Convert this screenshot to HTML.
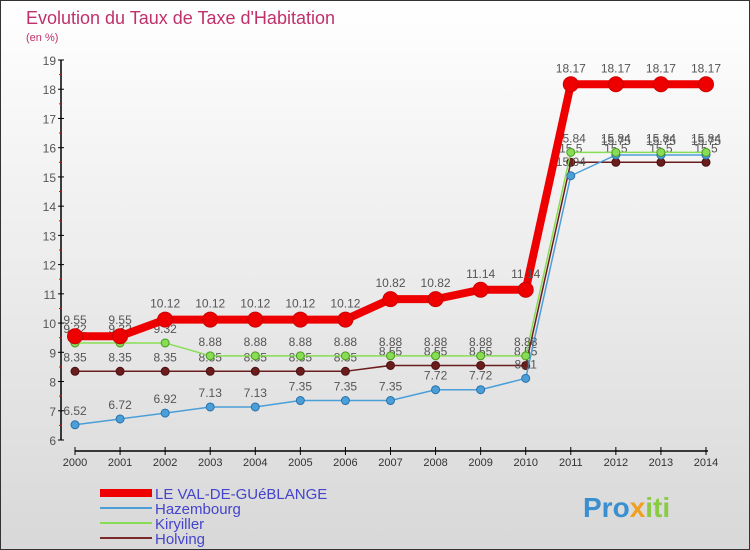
<!DOCTYPE html>
<html><head><meta charset="utf-8"><style>
body{margin:0}
svg{display:block;font-family:"Liberation Sans",sans-serif}
</style></head><body>
<svg id="c" width="750" height="550">
<defs><linearGradient id="bg" x1="0" y1="0" x2="0" y2="1"><stop offset="0" stop-color="#ffffff"/><stop offset="1" stop-color="#d8d8d8"/></linearGradient></defs>
<rect x="0.5" y="0.5" width="749" height="549" fill="url(#bg)" stroke="#333"/>
<text x="26" y="24" font-size="18" fill="#c0306a">Evolution du Taux de Taxe d'Habitation</text>
<text x="26" y="41" font-size="11" fill="#c0306a">(en %)</text>
<g id="axes"></g><g id="series"></g>
<g>
<line x1="100" y1="493" x2="152" y2="493" stroke="#ee0000" stroke-width="8"/>
<text x="155" y="499" font-size="15" fill="#4444cc">LE VAL-DE-GUéBLANGE</text>
<line x1="100" y1="508" x2="152" y2="508" stroke="#4a9fd8" stroke-width="2"/>
<text x="155" y="514" font-size="15" fill="#4444cc">Hazembourg</text>
<line x1="100" y1="523" x2="152" y2="523" stroke="#88dd55" stroke-width="2"/>
<text x="155" y="529" font-size="15" fill="#4444cc">Kiryiller</text>
<line x1="100" y1="538" x2="152" y2="538" stroke="#7a2a2a" stroke-width="2"/>
<text x="155" y="544" font-size="15" fill="#4444cc">Holving</text>
</g>
<text x="583" y="517" font-size="28" font-weight="bold" fill="#3a8fd0">Pro<tspan fill="#f0a020">x</tspan><tspan fill="#88cc44">iti</tspan></text>
</svg>
<script>
const years=[2000,2001,2002,2003,2004,2005,2006,2007,2008,2009,2010,2011,2012,2013,2014];
const leVal=[9.55,9.55,10.12,10.12,10.12,10.12,10.12,10.82,10.82,11.14,11.14,18.17,18.17,18.17,18.17];
const hazembourg=[6.52,6.72,6.92,7.13,7.13,7.35,7.35,7.35,7.72,7.72,8.11,15.04,15.75,15.75,15.75];
const kiryiller=[9.32,9.32,9.32,8.88,8.88,8.88,8.88,8.88,8.88,8.88,8.88,15.84,15.84,15.84,15.84];
const holving=[8.35,8.35,8.35,8.35,8.35,8.35,8.35,8.55,8.55,8.55,8.55,15.5,15.5,15.5,15.5];
const yTicks=[6,7,8,9,10,11,12,13,14,15,16,17,18,19];
const NS="http://www.w3.org/2000/svg";
const X=i=>75+i*(631/14);
const Y=v=>440-(v-6)*(380/13);
function mk(t,a,p){const e=document.createElementNS(NS,t);for(const k in a)e.setAttribute(k,a[k]);p.appendChild(e);return e;}
const ax=document.getElementById('axes');
let e=mk('line',{x1:61,y1:60,x2:61,y2:440,stroke:'#000','stroke-width':1.5},ax);


e=mk('line',{x1:75,y1:451,x2:708,y2:451,stroke:'#000','stroke-width':1.5},ax);


yTicks.forEach(v=>{
  mk('line',{x1:58,y1:Y(v),x2:64,y2:Y(v),stroke:'#000'},ax);
  if(v<19)mk('line',{x1:59,y1:Y(v+0.5),x2:62,y2:Y(v+0.5),stroke:'#e00'},ax);
  const t=mk('text',{x:56,y:Y(v)+5,'font-size':12,fill:'#555','text-anchor':'end'},ax);t.textContent=v;
  
  
});
years.forEach((y,i)=>{
  mk('line',{x1:X(i),y1:447,x2:X(i),y2:455,stroke:'#000'},ax);
  const t=mk('text',{x:X(i),y:466,'font-size':11,fill:'#333','text-anchor':'middle'},ax);t.textContent=y;
  
  
});
const sg=document.getElementById('series');
function draw(vals,color,w,r,name,dark,lo){
  const g=mk('g',{},sg);
  
  
  mk('polyline',{points:vals.map((v,i)=>X(i)+','+Y(v)).join(' '),fill:'none',stroke:color,'stroke-width':w,'stroke-linejoin':'round'},g);
  vals.forEach((v,i)=>{
    const c=mk('circle',{cx:X(i),cy:Y(v),r:r,fill:color,stroke:dark,'stroke-width':1},g);
    
    
    const t=mk('text',{x:X(i),y:Y(v)-lo,'font-size':12,fill:'#555','text-anchor':'middle'},g);t.textContent=String(v);
    
    
  });
}
draw(holving,'#6b1d1d',1.5,4,'series-holving','#4a1010',10);
draw(hazembourg,'#4a9fd8',1.5,4,'series-hazembourg','#2a70a8',10);
draw(kiryiller,'#88dd55',1.5,4,'series-kiryiller','#4a9a20',10);
draw(leVal,'#ee0000',8,7.5,'series-le-val','#cc0000',12);
</script>
</body></html>
